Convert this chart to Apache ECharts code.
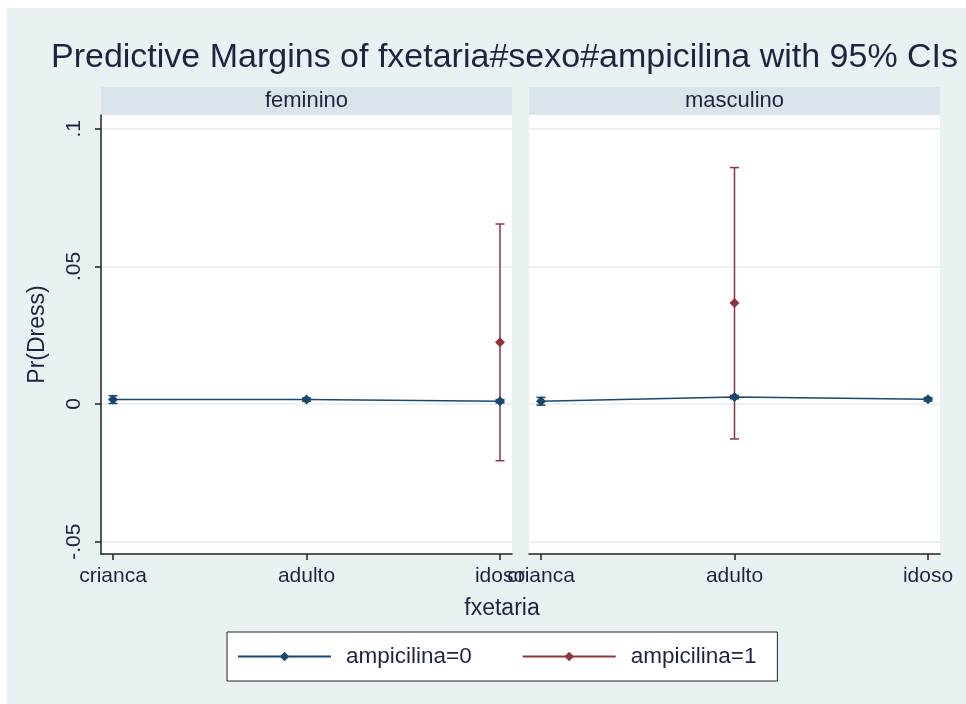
<!DOCTYPE html>
<html>
<head>
<meta charset="utf-8">
<script src="https://cdn.jsdelivr.net/npm/echarts@6/dist/echarts.min.js"></script>
<style>
html,body{margin:0;padding:0;background:#fff;}
#wrap{position:relative;width:966px;height:704px;background:#fff;overflow:hidden;}
#bg{position:absolute;left:7px;top:8px;right:0;bottom:0;background:#eaf1f3;}
#chart{position:absolute;left:0;top:0;width:966px;height:704px;}
</style>
</head>
<body>
<div id="wrap"><div id="bg"></div><div id="chart"></div></div>
<script>
// ---- data ----
const categories = ['crianca', 'adulto', 'idoso'];
const panels = ['feminino', 'masculino'];
const seriesNames = ['ampicilina=0', 'ampicilina=1'];
const yTicks = [-0.05, 0, 0.05, 0.1];
const yTickLabels = ['-.05', '0', '.05', '.1'];
const xTicks = [0, 1, 2];

// feminino
const fem_amp0 = [0.0016, 0.0016, 0.0010];
const fem_amp0_lo = [0.0002, 0.0010, 0.0004];
const fem_amp0_hi = [0.0030, 0.0022, 0.0016];
const fem_amp1 = [null, null, 0.0224];
const fem_amp1_lo = [null, null, -0.0206];
const fem_amp1_hi = [null, null, 0.0654];
// masculino
const masc_amp0 = [0.0010, 0.0025, 0.0017];
const masc_amp0_lo = [-0.0004, 0.0019, 0.0011];
const masc_amp0_hi = [0.0024, 0.0031, 0.0023];
const masc_amp1 = [null, 0.0367, null];
const masc_amp1_lo = [null, -0.0127, null];
const masc_amp1_hi = [null, 0.0859, null];

const BLUE = '#1a476f';
const RED = '#90353b';
const TXT = '#1e2440';
const FONT = '"Liberation Sans", Arial, sans-serif';

const chart = echarts.init(document.getElementById('chart'), null, {renderer: 'canvas'});

function pts(vals) {
  return vals.map((v, i) => v == null ? null : [xTicks[i], v]).filter(d => d);
}
function ciData(lo, hi) {
  const out = [];
  lo.forEach((l, i) => { if (l != null && hi[i] != null) out.push([xTicks[i], l, hi[i]]); });
  return out;
}
function ciSeries(name, lo, hi, color, idx, z) {
  return {
    type: 'custom', name: name + ' CI', xAxisIndex: idx, yAxisIndex: idx, z: z, silent: true,
    encode: {x: 0, y: [1, 2]},
    itemStyle: {color: color},
    data: ciData(lo, hi),
    renderItem: function (params, api) {
      const x = api.value(0);
      const a = api.coord([x, api.value(1)]);
      const b = api.coord([x, api.value(2)]);
      const w = 4.5;
      const st = {stroke: color, lineWidth: 1.5};
      return {type: 'group', children: [
        {type: 'line', shape: {x1: a[0], y1: a[1], x2: b[0], y2: b[1]}, style: st},
        {type: 'line', shape: {x1: a[0] - w, y1: a[1], x2: a[0] + w, y2: a[1]}, style: st},
        {type: 'line', shape: {x1: b[0] - w, y1: b[1], x2: b[0] + w, y2: b[1]}, style: st}
      ]};
    }
  };
}
function lineSeries(name, vals, color, idx, z) {
  return {
    type: 'line', name: name, xAxisIndex: idx, yAxisIndex: idx, z: z,
    data: pts(vals), symbol: 'diamond', symbolSize: 10, showSymbol: true,
    itemStyle: {color: color}, lineStyle: {color: color, width: 1.5},
    animation: false, silent: true
  };
}

const grids = [
  {left: 101, right: 454, top: 115, bottom: 150},
  {left: 529, right: 26, top: 115, bottom: 150}
];

function xAxis(idx) {
  return {
    type: 'value', gridIndex: idx, min: -0.062, max: 2.062,
    axisLine: {show: true, onZero: false, lineStyle: {color: '#222', width: 1.5}},
    axisTick: {show: true, length: 6, inside: false, customValues: xTicks, lineStyle: {color: '#222', width: 1.5}},
    axisLabel: {show: true, customValues: xTicks, margin: 12, color: TXT, fontSize: 21, fontFamily: FONT,
      formatter: v => categories[Math.round(v)]},
    splitLine: {show: false}
  };
}
function yAxis(idx) {
  const first = idx === 0;
  return {
    type: 'value', gridIndex: idx, min: -0.0545, max: 0.105,
    name: first ? 'Pr(Dress)' : '', nameLocation: 'middle', nameGap: 52, nameRotate: 90,
    nameTextStyle: {color: TXT, fontSize: 23, fontFamily: FONT},
    axisLine: {show: first, onZero: false, lineStyle: {color: '#222', width: 1.5}},
    axisTick: {show: first, length: 6, customValues: yTicks, lineStyle: {color: '#222', width: 1.5}},
    axisLabel: {show: first, customValues: yTicks, rotate: 90, margin: 16, color: TXT, fontSize: 21, fontFamily: FONT,
      formatter: v => yTickLabels[yTicks.findIndex(t => Math.abs(t - v) < 1e-9)]},
    splitLine: {show: true, lineStyle: {color: '#e6eef1', width: 1.5}}
  };
}

const strips = [];
grids.forEach((g, i) => {
  const x0 = g.left, x1 = 966 - g.right;
  strips.push({type: 'rect', shape: {x: x0, y: 87, width: x1 - x0, height: 28}, style: {fill: '#d9e5ea'}, silent: true});
  strips.push({type: 'text', x: (x0 + x1) / 2, y: 101, style: {text: panels[i], fill: TXT, fontSize: 22, fontFamily: FONT, align: 'center', verticalAlign: 'middle'}, silent: true});
});
strips.push({type: 'text', x: 502, y: 609, style: {text: 'fxetaria', fill: TXT, fontSize: 23, fontFamily: FONT, align: 'center', verticalAlign: 'middle'}, silent: true});

const option = {
  backgroundColor: 'transparent',
  animation: false,
  title: {text: 'Predictive Margins of fxetaria#sexo#ampicilina with 95% CIs', left: 46, top: 36,
    textStyle: {color: TXT, fontSize: 34, fontWeight: 'normal', fontFamily: FONT}},
  grid: grids.map(g => Object.assign({show: true, backgroundColor: '#fff', borderWidth: 0}, g)),
  xAxis: [xAxis(0), xAxis(1)],
  yAxis: [yAxis(0), yAxis(1)],
  legend: {
    data: seriesNames, left: 227, top: 632, orient: 'horizontal',
    backgroundColor: '#fff', borderColor: '#222', borderWidth: 1, borderRadius: 0,
    padding: [13, 21, 13, 10], itemWidth: 93, itemHeight: 12, itemGap: 50,
    textStyle: {color: TXT, fontSize: 22.5, fontFamily: FONT, padding: [0, 0, 0, 10]},
    selectedMode: false
  },
  graphic: strips,
  series: [
    ciSeries(seriesNames[1], fem_amp1_lo, fem_amp1_hi, RED, 0, 2),
    lineSeries(seriesNames[1], fem_amp1, RED, 0, 3),
    ciSeries(seriesNames[0], fem_amp0_lo, fem_amp0_hi, BLUE, 0, 4),
    lineSeries(seriesNames[0], fem_amp0, BLUE, 0, 5),
    ciSeries(seriesNames[1], masc_amp1_lo, masc_amp1_hi, RED, 1, 2),
    lineSeries(seriesNames[1], masc_amp1, RED, 1, 3),
    ciSeries(seriesNames[0], masc_amp0_lo, masc_amp0_hi, BLUE, 1, 4),
    lineSeries(seriesNames[0], masc_amp0, BLUE, 1, 5)
  ]
};
chart.setOption(option);
</script>
</body>
</html>
